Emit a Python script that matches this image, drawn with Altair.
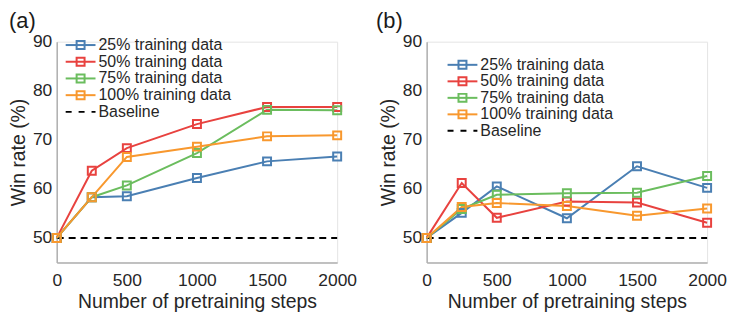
import altair as alt
import pandas as pd

steps = [0, 250, 500, 1000, 1500, 2000]
series_names = ["25% training data", "50% training data", "75% training data",
                "100% training data", "Baseline"]

a_25 = [50, 58.3, 58.5, 62.2, 65.6, 66.6]
a_50 = [50, 63.7, 68.3, 73.2, 76.7, 76.7]
a_75 = [50, 58.3, 60.7, 67.3, 76.1, 76.0]
a_100 = [50, 58.3, 66.5, 68.6, 70.7, 70.9]

b_25 = [50, 55.1, 60.5, 54.0, 64.6, 60.2]
b_50 = [50, 61.2, 54.1, 57.4, 57.2, 53.1]
b_75 = [50, 55.9, 58.8, 59.1, 59.2, 62.6]
b_100 = [50, 56.3, 57.1, 56.5, 54.5, 56.0]

baseline_x = [0, 2000]
baseline_y = [50, 50]

colors = ["#4A7FB3", "#E8423F", "#6BBD5E", "#F8982E", "#000000"]
FONT = "Liberation Sans"
TEXT = "#262626"


def make_df(vals):
    rows = []
    for name, ys in zip(series_names[:4], vals):
        for x, y in zip(steps, ys):
            rows.append({"step": x, "rate": y, "series": name})
    return pd.DataFrame(rows)


base_df = pd.DataFrame({"step": baseline_x, "rate": baseline_y,
                        "series": ["Baseline"] * 2})
legend_df = pd.DataFrame({"series": series_names})

color_scale = alt.Scale(domain=series_names, range=colors)


def panel(vals, label, title_dx, lx, row_range):
    df = make_df(vals)
    x = alt.X("step:Q", title="Number of pretraining steps",
              scale=alt.Scale(domain=[0, 2000], nice=False),
              axis=alt.Axis(values=[0, 500, 1000, 1500, 2000], format="d"))
    y = alt.Y("rate:Q", title="Win rate (%)",
              scale=alt.Scale(domain=[45, 90], nice=False, zero=False),
              axis=alt.Axis(values=[50, 60, 70, 80, 90]))
    col = alt.Color("series:N", scale=color_scale, legend=None)
    baseline = alt.Chart(base_df).mark_line(
        strokeDash=[7, 5], strokeWidth=2, color="black"
    ).encode(x=x, y=y)
    lines = alt.Chart(df).mark_line(strokeWidth=2).encode(
        x=x, y=y, color=col, detail="series:N",
    )
    pts = alt.Chart(df).mark_point(
        shape="square", filled=False, size=64, strokeWidth=2, opacity=1
    ).encode(x=x, y=y, color=col)
    base_layer = alt.layer(baseline, lines, pts)

    # legend
    ly = alt.Y("series:N", scale=alt.Scale(domain=series_names,
                                           range=row_range, padding=0),
               axis=None)
    leg_lines = alt.Chart(legend_df).mark_rule(strokeWidth=2).encode(
        x=alt.value(lx), x2=alt.value(lx + 30), y=ly, color=col,
    ).transform_filter(alt.datum.series != "Baseline")
    leg_dash = alt.Chart(legend_df).mark_rule(
        strokeWidth=2, strokeDash=[6, 7], color="black"
    ).encode(
        x=alt.value(lx), x2=alt.value(lx + 30), y=ly,
    ).transform_filter(alt.datum.series == "Baseline")
    leg_pts = alt.Chart(legend_df).mark_point(
        shape="square", filled=False, size=64, strokeWidth=2, opacity=1
    ).encode(
        x=alt.value(lx + 15), y=ly, color=col,
    ).transform_filter(alt.datum.series != "Baseline")
    leg_text = alt.Chart(legend_df).mark_text(
        align="left", baseline="middle", font=FONT, fontSize=16, color=TEXT
    ).encode(x=alt.value(lx + 33), y=ly, text="series:N")
    legend_layer = alt.layer(leg_lines, leg_dash, leg_pts, leg_text)

    return alt.layer(base_layer, legend_layer).resolve_scale(
        y="independent"
    ).properties(
        width=282, height=222,
        title=alt.TitleParams(label, anchor="start", frame="group",
                              fontSize=22, font=FONT,
                              fontWeight="normal", color="#1a1a1a",
                              dx=title_dx, offset=0),
    )


pa = panel([a_25, a_50, a_75, a_100], "(a)", -48, 9, [-5, 79])
pb = panel([b_25, b_50, b_75, b_100], "(b)", -51, 21, [15, 98])

chart = alt.hconcat(pa, pb, spacing=18).properties(
    padding={"left": 0, "top": 0, "right": 0, "bottom": 0}
).configure_view(
    stroke="#e4e4e4", strokeWidth=1
).configure_axis(
    labelFont=FONT, titleFont=FONT, labelFontSize=17.5, titleFontSize=19.5,
    labelColor=TEXT, titleColor=TEXT, titleFontWeight="normal",
    domainColor="#b0b0b0", domainWidth=1.5, ticks=False, grid=False,
    labelPadding=5, titlePadding=4, labelFlush=False,
).configure_axisX(labelPadding=9, titlePadding=4)

chart.save("out.html", embed_options={"renderer": "svg", "actions": False})
